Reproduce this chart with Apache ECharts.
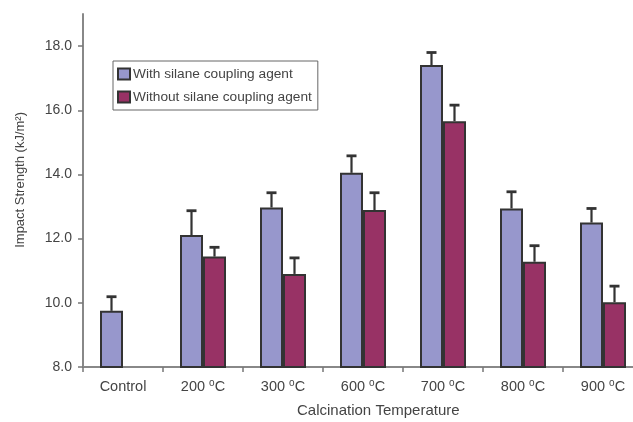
<!DOCTYPE html>
<html>
<head>
<meta charset="utf-8">
<script src="https://cdn.jsdelivr.net/npm/echarts@6/dist/echarts.min.js"></script>
<style>html,body{margin:0;padding:0;background:#fff}#c{width:633px;height:422px}</style>
</head>
<body>
<div id="c"></div>
<script>
const categories = ['Control', '200 °C', '300 °C', '600 °C', '700 °C', '800 °C', '900 °C'];
const withSilane = [9.75, 12.11, 12.97, 14.05, 17.41, 12.94, 12.50];
const withSilaneErr = [0.44, 0.76, 0.46, 0.53, 0.39, 0.52, 0.44];
const withoutSilane = [null, 11.44, 10.90, 12.89, 15.66, 11.28, 10.02];
const withoutSilaneErr = [null, 0.29, 0.50, 0.54, 0.50, 0.50, 0.50];
const yTicks = [8, 10, 12, 14, 16, 18];
const seriesNames = ['With silane coupling agent', 'Without silane coupling agent'];

const FONT = 'Liberation Sans, Arial, sans-serif';
const BAR_W = 23;

function errSeries(values, errs, offset) {
  return {
    type: 'custom',
    silent: true,
    z: 5,
    data: values.map((v, i) => v == null ? [i, null, null] : [i, v, v + errs[i]]),
    renderItem: function (params, api) {
      const v = api.value(1);
      if (v == null || isNaN(v)) return null;
      const p0 = api.coord([api.value(0), v]);
      const p1 = api.coord([api.value(0), api.value(2)]);
      const x = p0[0] + offset;
      const cap = 5;
      const style = { stroke: '#333', lineWidth: 2.2 };
      return {
        type: 'group',
        children: [
          { type: 'line', shape: { x1: x, y1: p0[1], x2: x, y2: p1[1] }, style },
          { type: 'line', shape: { x1: x - cap, y1: p1[1], x2: x + cap, y2: p1[1] }, style: { stroke: '#333', lineWidth: 2.8 } }
        ]
      };
    }
  };
}

function fmtCat(v) {
  const i = v.indexOf('°');
  if (i < 0) return '{n|' + v + '}';
  return '{n|' + v.slice(0, i) + '}{sup|o}{n|' + v.slice(i + 1) + '}';
}

const chart = echarts.init(document.getElementById('c'), null, { renderer: 'canvas' });
chart.setOption({
  animation: false,
  textStyle: { fontFamily: FONT },
  grid: { left: 83, width: 560, top: 14, height: 353, containLabel: false, outerBoundsMode: 'none' },
  legend: {
    left: 113, top: 61,
    orient: 'vertical',
    data: seriesNames,
    icon: 'rect',
    itemWidth: 12, itemHeight: 11, itemGap: 9,
    padding: [6, 6, 6, 4],
    borderColor: '#666', borderWidth: 1,
    textStyle: { fontSize: 13.7, color: '#444', fontFamily: FONT, padding: [0, 0, 0, -2] }
  },
  xAxis: {
    type: 'category',
    data: categories,
    axisLine: { lineStyle: { color: '#888', width: 2 } },
    axisTick: { show: true, interval: 0, length: 5, lineStyle: { color: '#777', width: 1.5 } },
    axisLabel: {
      interval: 0, hideOverlap: false,
      color: '#444', margin: 11, fontFamily: FONT,
      formatter: fmtCat,
      rich: {
        n: { fontSize: 14.5, color: '#444', fontFamily: FONT, lineHeight: 18 },
        sup: { fontSize: 10, color: '#444', fontFamily: FONT, lineHeight: 10, verticalAlign: 'top' }
      }
    }
  },
  yAxis: {
    type: 'value',
    min: 8, max: 19, interval: 2,
    axisLine: { show: true, lineStyle: { color: '#888', width: 2 } },
    axisTick: { show: true, length: 5, customValues: yTicks, lineStyle: { color: '#777', width: 1.5 } },
    axisLabel: { fontSize: 14, color: '#444', margin: 11, customValues: yTicks, fontFamily: FONT,
      formatter: v => v.toFixed(1) },
    splitLine: { show: false }
  },
  graphic: [
    { type: 'text', left: 14, top: 112, rotation: Math.PI / 2,
      style: { text: 'Impact Strength (kJ/m²)', fill: '#444', font: '13px ' + FONT } },
    { type: 'text', left: 297, top: 403,
      style: { text: 'Calcination Temperature', fill: '#444', font: '15px ' + FONT } }
  ],
  series: [
    { name: seriesNames[0], type: 'bar', data: withSilane, barWidth: BAR_W, barGap: '0%',
      itemStyle: { color: '#9797cc', borderColor: '#333', borderWidth: 2 } },
    { name: seriesNames[1], type: 'bar', data: withoutSilane, barWidth: BAR_W, barGap: '0%',
      itemStyle: { color: '#983265', borderColor: '#333', borderWidth: 2 } },
    errSeries(withSilane, withSilaneErr, -BAR_W / 2),
    errSeries(withoutSilane, withoutSilaneErr, BAR_W / 2)
  ]
});
</script>
</body>
</html>
